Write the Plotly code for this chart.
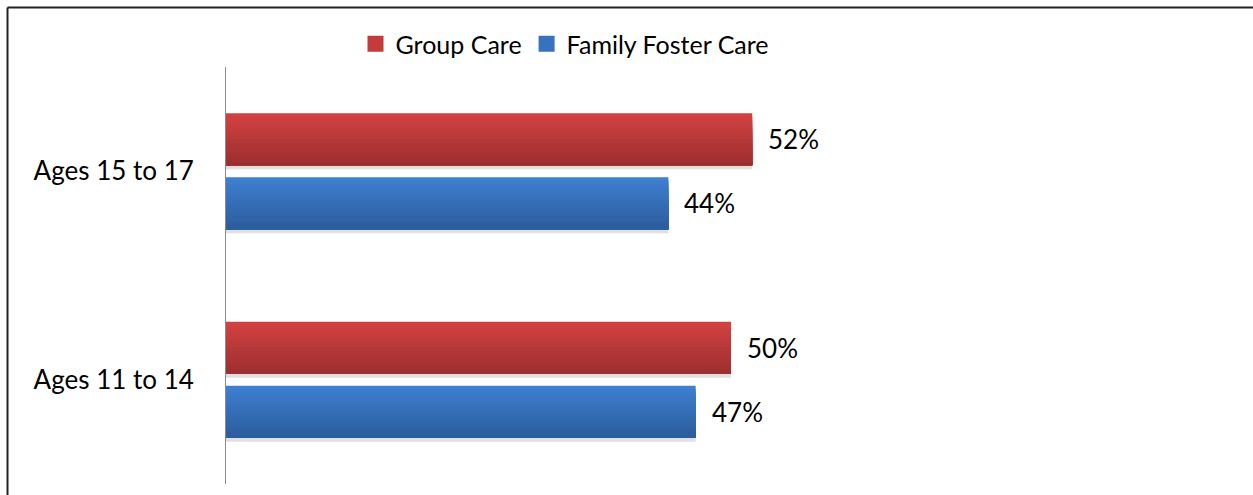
import plotly.graph_objects as go

categories = ["Ages 11 to 14", "Ages 15 to 17"]
group_care = [50.0, 52.1]
family_foster = [46.5, 43.8]
group_labels = ["50%", "52%"]
family_labels = ["47%", "44%"]

W, H = 1253, 495
L, R, T, B = 226, 17, 67, 11
FONT = "Lato, Carlito, Calibri, sans-serif"
pw = W - L - R
ph = H - T - B
cat_px = ph / len(categories)          # pixels per category
bar_w = 52 / cat_px                     # bar thickness in category units
centre = 32 / cat_px                    # bar centre offset from category centre
N = 16                                  # gradient steps


def lerp(c0, c1, t):
    return "rgb(%d,%d,%d)" % tuple(round(a + (b - a) * t) for a, b in zip(c0, c1))


series = [
    ("Group Care", group_care, group_labels, +centre, (158, 47, 47), (210, 65, 65), "#C33B3B"),
    ("Family Foster Care", family_foster, family_labels, -centre, (44, 93, 156), (62, 127, 208), "#3672BE"),
]

fig = go.Figure()
for rank, (name, vals, labs, off, dark, light, mid) in enumerate(series):
    bottom = off - bar_w / 2
    # soft shadow under bar
    fig.add_trace(go.Bar(
        y=categories, x=vals, orientation="h", width=bar_w, offset=bottom - 4 / cat_px,
        marker=dict(color="rgba(0,0,0,0.12)", line=dict(width=0)), showlegend=False, hoverinfo="skip",
    ))
    # nested bars anchored at the bar's lower edge give a vertical gradient
    for k in range(N):
        frac = (N - k) / N
        fig.add_trace(go.Bar(
            y=categories, x=vals, orientation="h", width=bar_w * frac, offset=bottom,
            marker=dict(color=lerp(light, dark, k / (N - 1)), line=dict(width=0)),
            name=name, legendgroup=name, showlegend=False, hoverinfo="skip",
        ))
    # legend entry (square key)
    fig.add_trace(go.Scatter(
        x=[None], y=[None], mode="markers", name=name, legendgroup=name, legendrank=rank,
        marker=dict(symbol="square", size=16, color=mid, line=dict(width=0)), showlegend=True,
    ))
    for c, v, t in zip(categories, vals, labs):
        fig.add_annotation(x=v, y=c, text=t, showarrow=False, xanchor="left",
                           xshift=14, yshift=off * cat_px,
                           font=dict(size=26, color="#000", family=FONT))

# frame lines (top and left) like the reference
fig.add_shape(type="line", xref="paper", yref="paper",
              x0=(7.5 - L) / pw, x1=(W - L) / pw, y0=(H - B - 7.5) / ph, y1=(H - B - 7.5) / ph,
              line=dict(color="#222", width=2))
fig.add_shape(type="line", xref="paper", yref="paper",
              x0=(7.5 - L) / pw, x1=(7.5 - L) / pw, y0=(H - B - 7.5) / ph, y1=-B / ph - 0.01,
              line=dict(color="#222", width=2))

fig.update_layout(
    width=W, height=H,
    margin=dict(l=L, r=R, t=T, b=B),
    paper_bgcolor="white", plot_bgcolor="white",
    barmode="overlay",
    font=dict(family=FONT, size=26, color="#000"),
    showlegend=True,
    legend=dict(orientation="h", traceorder="normal", x=(565 - L) / pw, xanchor="center",
                y=(H - B - 44) / ph, yanchor="middle", font=dict(size=25),
                itemwidth=30, bgcolor="rgba(0,0,0,0)"),
    xaxis=dict(range=[0, 100], visible=False, showgrid=False, zeroline=False),
    yaxis=dict(type="category", showline=True, linecolor="#8c8c8c", linewidth=1, showgrid=False,
               ticks="", ticklabelstandoff=26, tickfont=dict(size=26), zeroline=False,
               range=[-0.5, 1.5], categoryorder="array", categoryarray=categories),
)

fig.write_html("out.html", config={"displayModeBar": False},
               post_script="document.body.style.margin='0';")
